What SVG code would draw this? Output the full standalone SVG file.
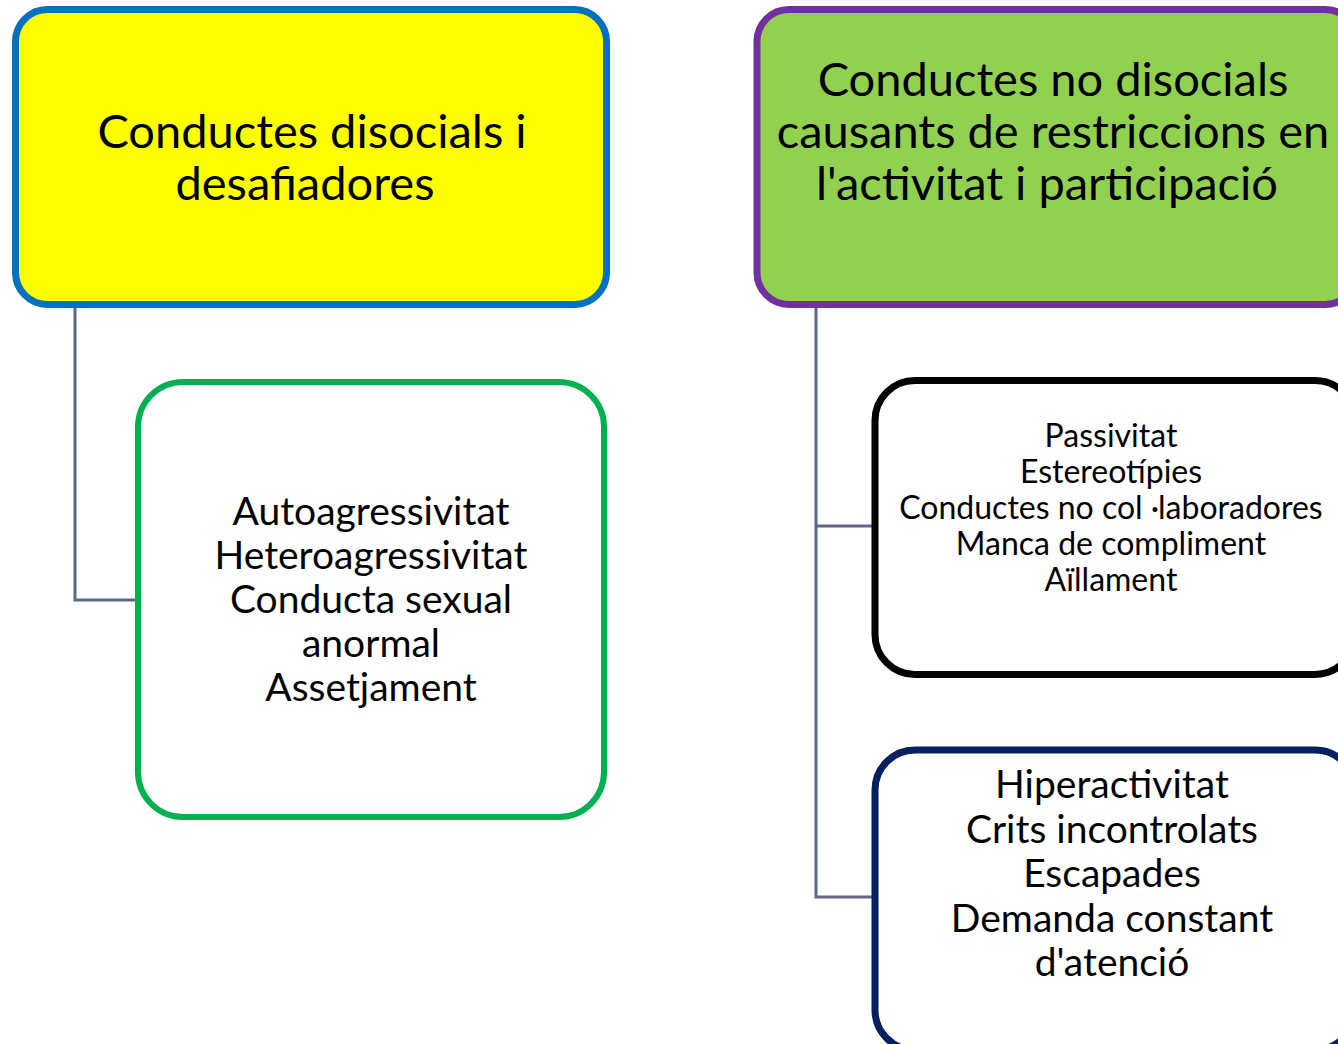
<svg xmlns="http://www.w3.org/2000/svg" width="1338" height="1044" viewBox="0 0 1338 1044">
<style>
.t{font-family:Lato,"Noto Sans","Liberation Sans",sans-serif;fill:#000;text-anchor:middle}
.big{font-size:47px}
.mid{font-size:39px}
.sm{font-size:32px}
.conn{fill:none;stroke:#5E6788;stroke-width:3}
</style>
<rect width="1338" height="1044" fill="#fff"/>
<g id="connectors">
<path class="conn" d="M75 308 V600 H137"/>
<path class="conn" d="M816 308 V897 H873 M816 526 H873"/>
</g>
<g id="node-disocials">
<rect x="15.5" y="9.5" width="591" height="295" rx="32" fill="#FFFF00" stroke="#0070C0" stroke-width="7"/>
<text class="t big" x="312" y="148">Conductes disocials i</text>
<text class="t big" x="305" y="200">desafiadores</text>
</g>
<g id="node-nodisocials">
<rect x="757" y="9.5" width="600" height="295" rx="32" fill="#92D050" stroke="#7030A0" stroke-width="7"/>
<text class="t big" x="1053" y="96">Conductes no disocials</text>
<text class="t big" x="1053" y="148">causants de restriccions en</text>
<text class="t big" x="1047" y="200">l'activitat i participació</text>
</g>
<g id="node-agress">
<rect x="138" y="382" width="466" height="435" rx="45" fill="#fff" stroke="#00B050" stroke-width="6"/>
<text class="t mid" x="371" y="525">Autoagressivitat</text>
<text class="t mid" x="371" y="569">Heteroagressivitat</text>
<text class="t mid" x="371" y="613">Conducta sexual</text>
<text class="t mid" x="371" y="657">anormal</text>
<text class="t mid" x="371" y="701">Assetjament</text>
</g>
<g id="node-passivitat">
<rect x="875" y="380.5" width="480" height="294" rx="40" fill="#fff" stroke="#000" stroke-width="7"/>
<text class="t sm" x="1111" y="447">Passivitat</text>
<text class="t sm" x="1111" y="483">Estereotípies</text>
<text class="t sm" x="1111" y="519">Conductes no col ·laboradores</text>
<text class="t sm" x="1111" y="555">Manca de compliment</text>
<text class="t sm" x="1111" y="591">Aïllament</text>
</g>
<g id="node-hiperactivitat">
<rect x="875" y="750" width="480" height="300" rx="40" fill="#fff" stroke="#002060" stroke-width="7"/>
<text class="t mid" x="1112" y="798">Hiperactivitat</text>
<text class="t mid" x="1112" y="843">Crits incontrolats</text>
<text class="t mid" x="1112" y="887">Escapades</text>
<text class="t mid" x="1112" y="932">Demanda constant</text>
<text class="t mid" x="1112" y="976">d'atenció</text>
</g>
</svg>
